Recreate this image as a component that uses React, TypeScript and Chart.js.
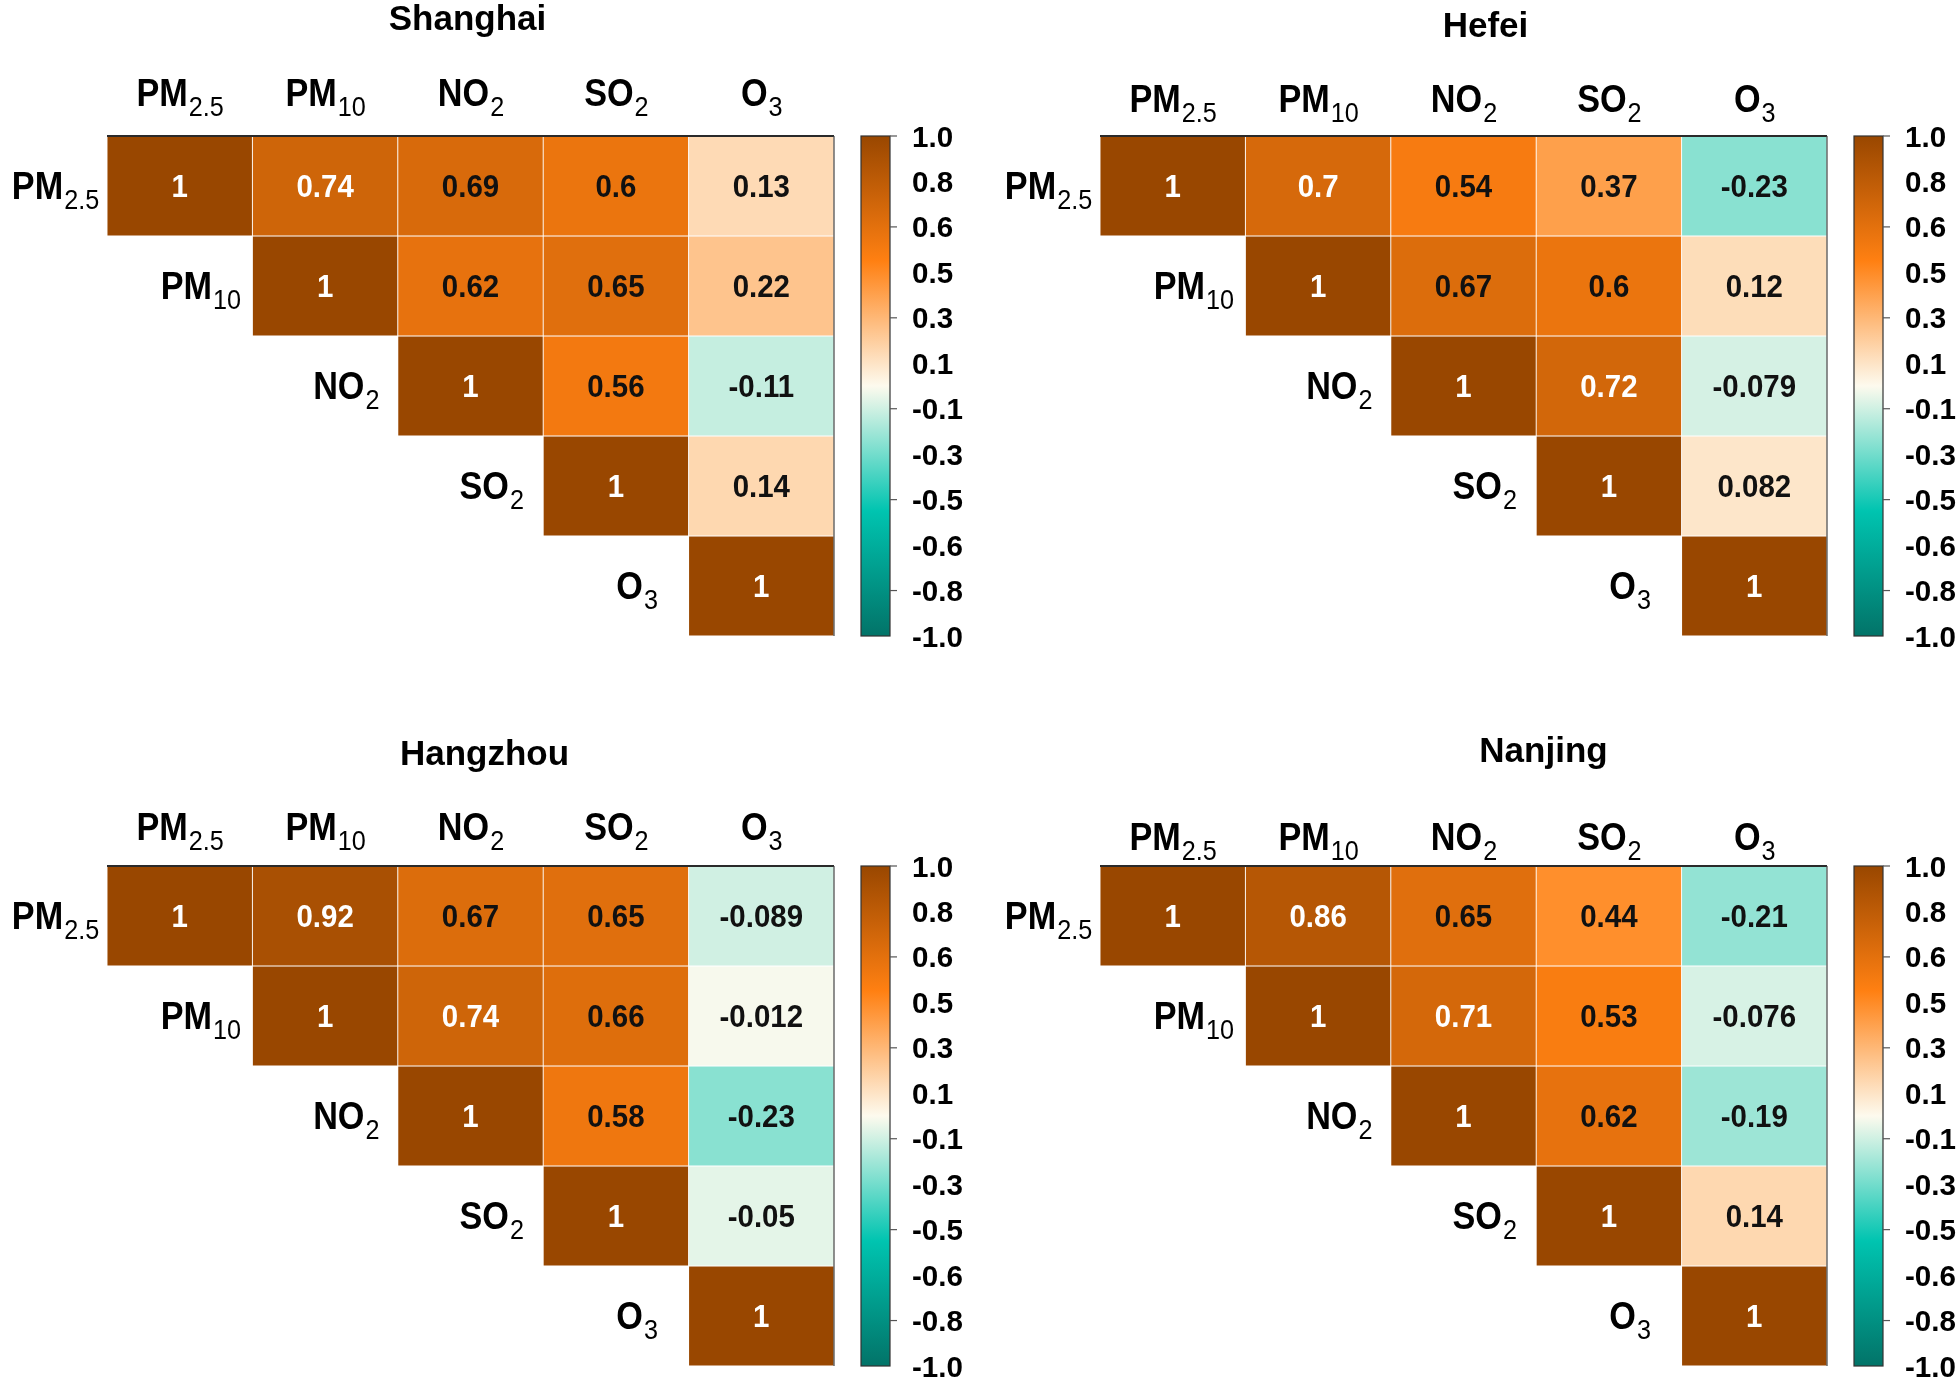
import React, { useEffect, useRef } from 'react';
import { Chart, registerables } from 'chart.js';

Chart.register(...registerables);

// ---------------- data ----------------
const POLLUTANTS = ['PM2.5', 'PM10', 'NO2', 'SO2', 'O3'];
const LABEL_MAIN = ['PM', 'PM', 'NO', 'SO', 'O'];
const LABEL_SUB = ['2.5', '10', '2', '2', '3'];

const SHANGHAI: (number | null)[][] = [
  [1, 0.74, 0.69, 0.6, 0.13],
  [null, 1, 0.62, 0.65, 0.22],
  [null, null, 1, 0.56, -0.11],
  [null, null, null, 1, 0.14],
  [null, null, null, null, 1],
];
const HEFEI: (number | null)[][] = [
  [1, 0.7, 0.54, 0.37, -0.23],
  [null, 1, 0.67, 0.6, 0.12],
  [null, null, 1, 0.72, -0.079],
  [null, null, null, 1, 0.082],
  [null, null, null, null, 1],
];
const HANGZHOU: (number | null)[][] = [
  [1, 0.92, 0.67, 0.65, -0.089],
  [null, 1, 0.74, 0.66, -0.012],
  [null, null, 1, 0.58, -0.23],
  [null, null, null, 1, -0.05],
  [null, null, null, null, 1],
];
const NANJING: (number | null)[][] = [
  [1, 0.86, 0.65, 0.44, -0.21],
  [null, 1, 0.71, 0.53, -0.076],
  [null, null, 1, 0.62, -0.19],
  [null, null, null, 1, 0.14],
  [null, null, null, null, 1],
];

const COLORBAR_LABELS = ['1.0', '0.8', '0.6', '0.5', '0.3', '0.1', '-0.1', '-0.3', '-0.5', '-0.6', '-0.8', '-1.0'];

// colormap stops: value -> rgb
const CMAP_VALUES = [1, 0.5, 0, -0.5, -1];
const CMAP_COLORS: [number, number, number][] = [
  [153, 71, 0],
  [255, 128, 18],
  [253, 250, 238],
  [0, 196, 176],
  [2, 115, 104],
];

// ---------------- layout ----------------
const FONT = "'Liberation Sans', Arial, Helvetica, sans-serif";
const CANVAS_W = 980;
const CANVAS_H = 690;

type Panel = {
  name: string;
  matrix: (number | null)[][];
  left: number;
  top: number;
  pad: { left: number; top: number; right: number; bottom: number };
  titleDx: number;
  titleDy: number;
  headerDy: number;
};

const PANELS: Panel[] = [
  { name: 'Shanghai', matrix: SHANGHAI, left: 0, top: 0, pad: { left: 107, top: 136, right: 146, bottom: 54 }, titleDx: -3, titleDy: -106, headerDy: -30 },
  { name: 'Hefei', matrix: HEFEI, left: 980, top: 0, pad: { left: 120, top: 136, right: 133, bottom: 54 }, titleDx: 22, titleDy: -99, headerDy: -24 },
  { name: 'Hangzhou', matrix: HANGZHOU, left: 0, top: 690, pad: { left: 107, top: 176, right: 146, bottom: 14 }, titleDx: 14, titleDy: -101, headerDy: -26 },
  { name: 'Nanjing', matrix: NANJING, left: 980, top: 690, pad: { left: 120, top: 176, right: 133, bottom: 14 }, titleDx: 80, titleDy: -104, headerDy: -16 },
];

function colorFor(v: number): string {
  for (let i = 0; i < CMAP_VALUES.length - 1; i++) {
    const a = CMAP_VALUES[i];
    const b = CMAP_VALUES[i + 1];
    if (v <= a && v >= b) {
      const t = (a - v) / (a - b);
      const ca = CMAP_COLORS[i];
      const cb = CMAP_COLORS[i + 1];
      const c = ca.map((x, k) => Math.round(x + (cb[k] - x) * t));
      return `rgb(${c[0]},${c[1]},${c[2]})`;
    }
  }
  return 'rgb(0,0,0)';
}

function drawText(
  ctx: CanvasRenderingContext2D,
  s: string,
  x: number,
  y: number,
  font: string,
  color: string,
  align: 'left' | 'center' | 'right',
  sx = 1
) {
  ctx.save();
  ctx.font = font;
  ctx.fillStyle = color;
  ctx.textAlign = 'left';
  ctx.textBaseline = 'alphabetic';
  const w = ctx.measureText(s).width * sx;
  const x0 = align === 'left' ? x : align === 'center' ? x - w / 2 : x - w;
  ctx.translate(x0, y);
  ctx.scale(sx, 1);
  ctx.fillText(s, 0, 0);
  ctx.restore();
}

const MAIN_FONT = `bold 38px ${FONT}`;
const SUB_FONT = `28px ${FONT}`;
const LSX = 0.9;

function drawSubLabel(ctx: CanvasRenderingContext2D, i: number, cx: number, baseline: number) {
  ctx.save();
  ctx.font = MAIN_FONT;
  const wm = ctx.measureText(LABEL_MAIN[i]).width * LSX;
  ctx.font = SUB_FONT;
  const ws = ctx.measureText(LABEL_SUB[i]).width * LSX;
  ctx.restore();
  const x0 = cx - (wm + ws) / 2;
  drawText(ctx, LABEL_MAIN[i], x0, baseline, MAIN_FONT, '#000', 'left', LSX);
  drawText(ctx, LABEL_SUB[i], x0 + wm + 1, baseline + 10, SUB_FONT, '#000', 'left', LSX);
}

function makePlugin(panel: Panel) {
  return {
    id: 'corrDecor' + panel.name,
    afterDatasetsDraw(chart: any) {
      const ctx: CanvasRenderingContext2D = chart.ctx;
      const area = chart.chartArea;
      const xs = chart.scales.x;
      const ys = chart.scales.y;
      const cbs = chart.scales.cb;
      const cellW = area.width / POLLUTANTS.length;

      // cell values
      panel.matrix.forEach((row, r) => {
        row.forEach((v, c) => {
          if (v === null) return;
          const cx = xs.getPixelForValue(c);
          const cy = ys.getPixelForValue(r + 0.5);
          drawText(ctx, String(v), cx, cy + 11, `bold 31px ${FONT}`, v >= 0.7 ? '#ffffff' : '#111111', 'center', 0.95);
        });
      });

      // axis lines: top and right
      ctx.save();
      ctx.strokeStyle = '#2a2a2a';
      ctx.lineWidth = 2;
      ctx.beginPath();
      ctx.moveTo(area.left, area.top);
      ctx.lineTo(area.right, area.top);
      ctx.stroke();
      ctx.lineWidth = 1.2;
      ctx.strokeStyle = '#444';
      ctx.beginPath();
      ctx.moveTo(area.right, area.top);
      ctx.lineTo(area.right, area.bottom);
      ctx.stroke();
      ctx.restore();

      // column headers
      POLLUTANTS.forEach((_, i) => {
        drawSubLabel(ctx, i, xs.getPixelForValue(i), area.top + panel.headerDy);
      });
      // row labels (diagonal)
      POLLUTANTS.forEach((_, i) => {
        const leftEdge = xs.getPixelForValue(i) - cellW / 2;
        drawSubLabel(ctx, i, leftEdge - 52, ys.getPixelForValue(i + 0.5) + 13);
      });

      // title
      drawText(ctx, panel.name, (area.left + area.right) / 2 + panel.titleDx, area.top + panel.titleDy, `bold 35px ${FONT}`, '#000', 'center', 1.0);

      // colorbar
      const barL = area.right + 27;
      const barW = 29;
      const top = cbs.getPixelForValue(1);
      const bot = cbs.getPixelForValue(-1);
      const grad = ctx.createLinearGradient(0, top, 0, bot);
      CMAP_VALUES.forEach((v, k) => {
        const c = CMAP_COLORS[k];
        grad.addColorStop((cbs.getPixelForValue(v) - top) / (bot - top), `rgb(${c[0]},${c[1]},${c[2]})`);
      });
      ctx.save();
      ctx.fillStyle = grad;
      ctx.fillRect(barL, top, barW, bot - top);
      ctx.strokeStyle = '#333';
      ctx.lineWidth = 1.2;
      ctx.strokeRect(barL, top, barW, bot - top);
      ctx.restore();

      const n = COLORBAR_LABELS.length - 1;
      COLORBAR_LABELS.forEach((lab, k) => {
        const val = 1 - (2 * k) / n;
        const py = cbs.getPixelForValue(val);
        if (k % 2 === 0) {
          ctx.save();
          ctx.strokeStyle = '#555';
          ctx.lineWidth = 1.2;
          ctx.beginPath();
          ctx.moveTo(barL + barW, py);
          ctx.lineTo(barL + barW + 7, py);
          ctx.stroke();
          ctx.restore();
        }
        drawText(ctx, lab, barL + barW + 22, py + 10.5, `bold 29px ${FONT}`, '#000', 'left', 1.02);
      });
    },
  };
}

function PanelChart({ panel }: { panel: Panel }) {
  const ref = useRef<HTMLCanvasElement | null>(null);
  useEffect(() => {
    if (!ref.current) return;
    const datasets = panel.matrix.map((row, r) => ({
      label: POLLUTANTS[r],
      data: row.map((v) => (v === null ? null : [r, r + 1])),
      backgroundColor: row.map((v) => (v === null ? 'rgba(0,0,0,0)' : colorFor(v))),
      borderColor: 'rgba(255,255,255,0.45)',
      borderWidth: 0.8,
      borderSkipped: false as any,
      grouped: false,
      categoryPercentage: 1,
      barPercentage: 1,
    }));
    const chart = new Chart(ref.current, {
      type: 'bar',
      data: { labels: POLLUTANTS, datasets: datasets as any },
      options: {
        animation: false,
        responsive: false,
        devicePixelRatio: 1,
        layout: { padding: panel.pad },
        plugins: { legend: { display: false }, tooltip: { enabled: false }, title: { display: false } },
        scales: {
          x: { type: 'category', offset: true, display: false },
          y: { type: 'linear', min: 0, max: 5, reverse: true, display: false },
          cb: { type: 'linear', position: 'right', min: -1, max: 1, display: false },
        },
      } as any,
      plugins: [makePlugin(panel)],
    });
    return () => chart.destroy();
  }, [panel]);
  return (
    <canvas
      ref={ref}
      width={CANVAS_W}
      height={CANVAS_H}
      style={{ position: 'absolute', left: panel.left, top: panel.top, width: CANVAS_W, height: CANVAS_H }}
    />
  );
}

export default function App() {
  return (
    <div style={{ position: 'fixed', left: 0, top: 0, width: 1960, height: 1380, background: '#fff', overflow: 'hidden' }}>
      {PANELS.map((p) => (
        <PanelChart key={p.name} panel={p} />
      ))}
    </div>
  );
}
